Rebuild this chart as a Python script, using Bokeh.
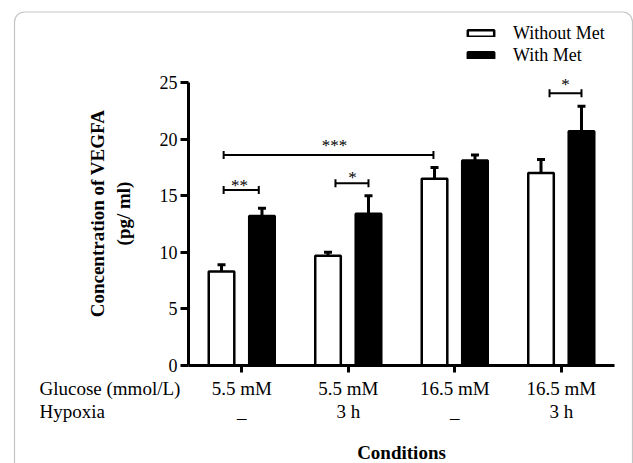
import math
from bokeh.plotting import figure
from bokeh.models import (ColumnDataSource, Range1d, FixedTicker, Whisker, TeeHead,
                          Legend, LegendItem, Label, LabelSet, BoxAnnotation)
from bokeh.transform import dodge
from bokeh.embed import file_html
from bokeh.resources import INLINE

# ---- data ----
groups = [1, 2, 3, 4]
glucose_labels = ["5.5 mM", "5.5 mM", "16.5 mM", "16.5 mM"]
hypoxia_labels = ["_", "3 h", "_", "3 h"]
without_met = [8.3, 9.7, 16.5, 17.0]
without_met_err = [0.6, 0.3, 1.0, 1.2]
with_met = [13.2, 13.4, 18.1, 20.7]
with_met_err = [0.7, 1.6, 0.5, 2.2]
y_ticks = [0, 5, 10, 15, 20, 25]

sig_x0 = [0.83, 1.88, 0.83, 3.89]
sig_x1 = [1.16, 2.19, 2.80, 4.19]
sig_y = [15.5, 16.1, 18.6, 24.05]
sig_text = ["**", "*", "***", "*"]
star_x = [0.98, 2.04, 1.87, 4.04]
star_y = [16.0, 16.75, 19.6, 24.95]

FONT = "Liberation Serif"
W, H = 633, 463
ML, MR, MT, MB = 188, 19, 82, 98
X0, X1, Y0, Y1 = 0.5, 4.5, 0, 25

src = ColumnDataSource(dict(
    x=groups,
    without=without_met,
    without_top=[v + e for v, e in zip(without_met, without_met_err)],
    withm=with_met,
    with_top=[v + e for v, e in zip(with_met, with_met_err)],
))
sig_src = ColumnDataSource(dict(x0=sig_x0, x1=sig_x1, y=sig_y))
star_src = ColumnDataSource(dict(x=star_x, y=star_y, text=sig_text))

p = figure(width=W, height=H, output_backend="svg", toolbar_location=None,
           x_range=Range1d(X0, X1), y_range=Range1d(Y0, Y1),
           min_border_left=ML, min_border_right=MR, min_border_top=MT, min_border_bottom=MB)
p.outline_line_color = None
p.grid.visible = False
p.background_fill_color = "white"
p.border_fill_color = "white"

off = 0.19
bw = 0.24
bar_without = dict(fill_color="white", line_color="black", line_width=2.5)
bar_with = dict(fill_color="black", line_color="black", line_width=2.5)
p.vbar(x=dodge("x", -off), top="without", width=bw, source=src, **bar_without)
p.vbar(x=dodge("x", off), top="withm", width=bw, source=src, **bar_with)

for base, low, up in [(dodge("x", -off), "without", "without_top"),
                      (dodge("x", off), "withm", "with_top")]:
    p.add_layout(Whisker(base=base, lower=low, upper=up, source=src,
                         upper_head=TeeHead(size=8, line_width=3, line_color="black"),
                         lower_head=None, line_width=3, line_color="black"))

p.add_layout(Whisker(dimension="width", base="y", lower="x0", upper="x1", source=sig_src,
                     upper_head=TeeHead(size=8, line_width=2, line_color="black"),
                     lower_head=TeeHead(size=8, line_width=2, line_color="black"),
                     line_width=2, line_color="black"))

# axes
ya = p.yaxis[0]
ya.ticker = FixedTicker(ticks=y_ticks)
ya.minor_tick_line_color = None
ya.major_tick_in = 0
ya.major_tick_out = 8
ya.major_tick_line_width = 3
ya.axis_line_width = 3
ya.major_label_text_font = FONT
ya.major_label_text_font_size = "18px"
ya.major_label_text_color = "black"
ya.major_label_standoff = 3

xa = p.xaxis[0]
xa.ticker = FixedTicker(ticks=groups)
xa.major_label_overrides = {g: f"{a}\n{b}" for g, a, b in zip(groups, glucose_labels, hypoxia_labels)}
xa.minor_tick_line_color = None
xa.major_tick_in = 0
xa.major_tick_out = 7
xa.major_tick_line_width = 3
xa.axis_line_width = 3
xa.major_label_text_font = FONT
xa.major_label_text_font_size = "19px"
xa.major_label_text_color = "black"
xa.major_label_text_line_height = 1.1
xa.major_label_standoff = 5

ytitle = Label(x=X0, y=Y0, x_offset=-78, y_offset=152, angle=math.pi / 2,
               text="Concentration of VEGFA\n(pg/ ml)", text_font=FONT,
               text_font_size="19px", text_font_style="bold", text_color="black",
               text_align="center", text_baseline="middle", text_line_height=1.2)
p.add_layout(ytitle, "left")

rows = Label(x=X0, y=Y0, x_offset=-149, y_offset=-12, text="Glucose (mmol/L)\nHypoxia",
             text_font=FONT, text_font_size="19px", text_color="black",
             text_baseline="top", text_align="left", text_line_height=1.1)
p.add_layout(rows, "above")
cond = Label(x=(X0 + X1) / 2, y=Y0, y_offset=-76, text="Conditions", text_font=FONT,
             text_font_size="19px", text_font_style="bold", text_color="black",
             text_align="center", text_baseline="top")
p.add_layout(cond, "below")

# ---- overlay (legend, stars, panel border), same data mapping as p ----
fw, fh = W - ML - MR, H - MT - MB
sx = (X1 - X0) / fw
sy = (Y1 - Y0) / fh
q = figure(width=W, height=H, output_backend="svg", toolbar_location=None,
           x_range=Range1d(X0 - ML * sx, X1 + MR * sx),
           y_range=Range1d(Y0 - MB * sy, Y1 + MT * sy),
           x_axis_location=None, y_axis_location=None,
           min_border=0)
q.outline_line_color = None
q.grid.visible = False
q.background_fill_alpha = 0
q.border_fill_alpha = 0
q.styles = {"position": "absolute", "left": "0px", "top": "0px"}

lg_without = q.vbar(x=dodge("x", -off), top="without", width=bw, source=src,
                    visible=False, **bar_without)
lg_with = q.vbar(x=dodge("x", off), top="withm", width=bw, source=src,
                 visible=False, **bar_with)
legend = Legend(items=[LegendItem(label="Without Met", renderers=[lg_without]),
                       LegendItem(label="With Met", renderers=[lg_with])],
                location=(464, 397), padding=0, spacing=0, margin=0,
                glyph_width=33, glyph_height=8, label_standoff=16,
                label_height=22, label_text_font=FONT, label_text_font_size="18px",
                label_text_color="black",
                border_line_color=None, background_fill_alpha=0)
q.add_layout(legend)

q.add_layout(LabelSet(x="x", y="y", text="text", source=star_src, text_align="center",
                      text_baseline="alphabetic", y_offset=-7, text_font=FONT,
                      text_font_size="17px", text_color="black"))

q.add_layout(BoxAnnotation(left=14, right=632, top=H - 11.5, bottom=-50,
                           left_units="screen", right_units="screen",
                           top_units="screen", bottom_units="screen",
                           fill_alpha=0, line_color="#3a3a3a", line_width=1.2,
                           border_radius=10))

open("out.html", "w").write(file_html([p, q], INLINE))
